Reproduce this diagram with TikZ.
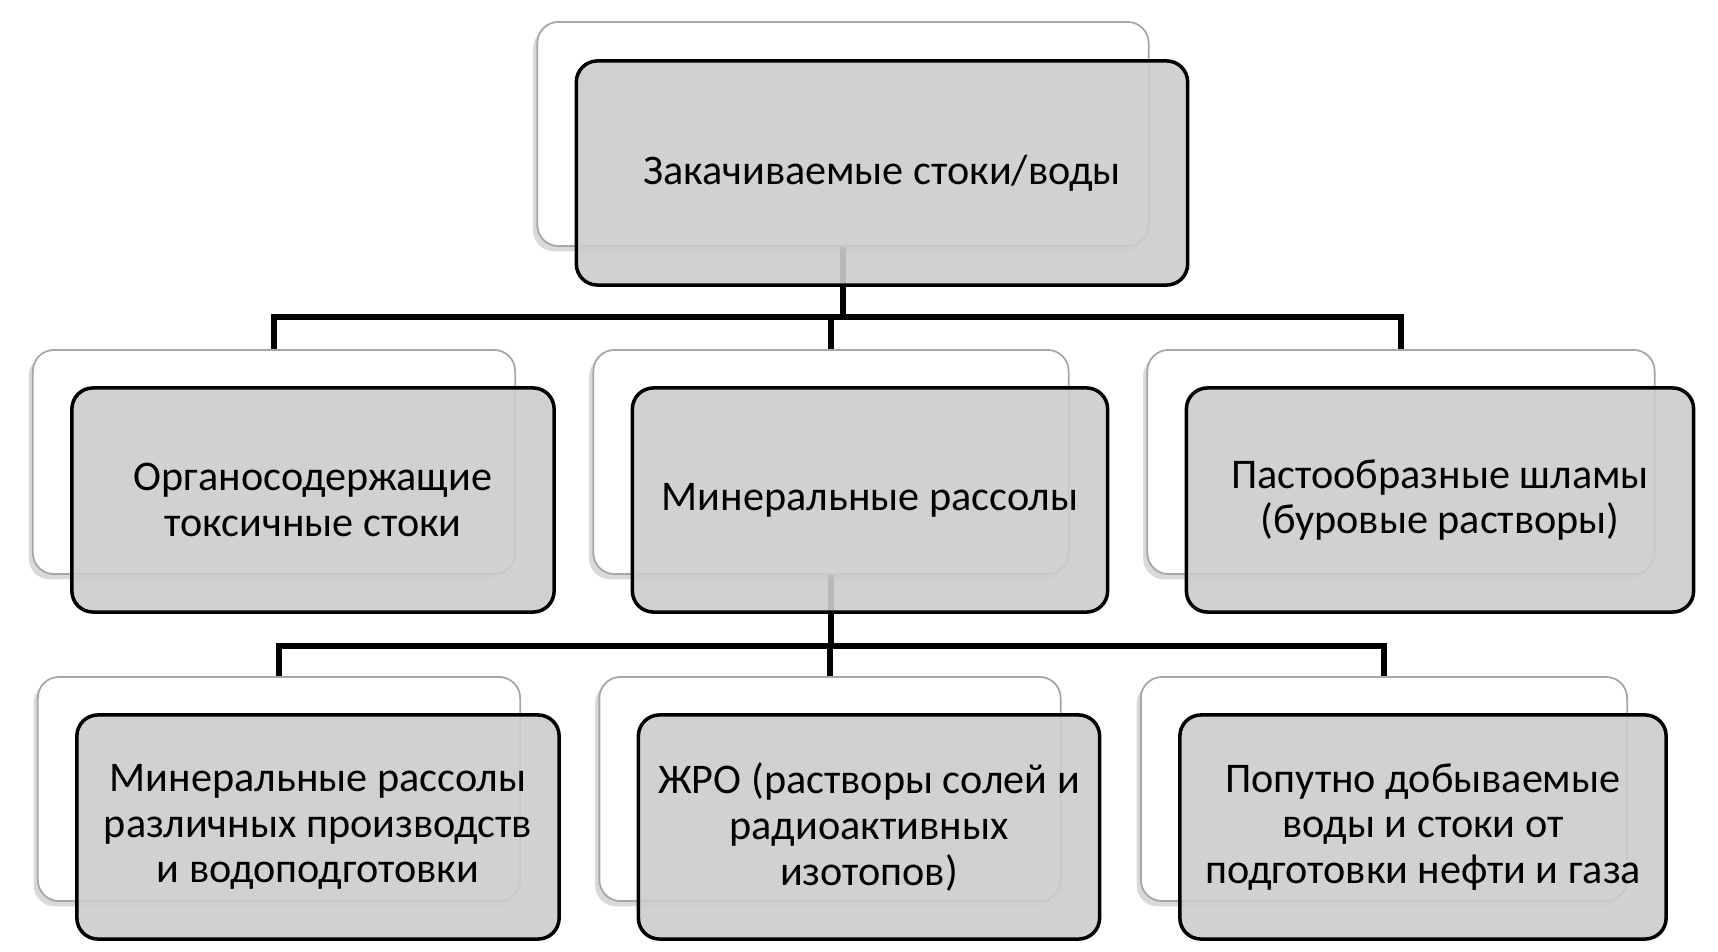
\documentclass[tikz,border=0pt]{standalone}
\usepackage{fontspec}
\setmainfont{Carlito}
\usetikzlibrary{shadows}
\usetikzlibrary{backgrounds}

\begin{document}
\begin{tikzpicture}[x=0.01cm,y=-0.01cm,
  backbox/.style={draw=gray!70,line width=0.5pt,fill=white,rounded corners=6pt,minimum height=2.24cm,inner sep=0pt,outer sep=0pt,drop shadow={shadow xshift=-1.2pt,shadow yshift=-1.5pt,opacity=0.3}},
  frontbox/.style={draw=black,line width=1pt,fill=black!20,fill opacity=0.9,text opacity=1,rounded corners=6pt,minimum height=2.24cm,inner sep=0pt,outer sep=0pt,align=center,font=\fontsize{12}{13}\selectfont},
  conn/.style={draw=black,line width=1.6pt}]
      \useasboundingbox (0,0) rectangle (1718,952);

      % top level
      \node [backbox,minimum width=6.11cm] (topb) at (843,134) {};
      \node [frontbox,minimum width=6.11cm] (topf) at ([shift={(39,39)}]topb.center) {Закачиваемые стоки/воды};

      % second level
      \node [backbox,minimum width=4.82cm] (orgb) at (274,462) {};
      \node [frontbox,minimum width=4.82cm] (orgf) at ([shift={(39,38)}]orgb.center) {Органосодержащие\\токсичные стоки};
      \node [backbox,minimum width=4.75cm] (minb) at (831,462) {};
      \node [frontbox,minimum width=4.75cm] (minf) at ([shift={(39,38)}]minb.center) {Минеральные рассолы};
      \node [backbox,minimum width=5.07cm] (pasb) at (1401,462) {};
      \node [frontbox,minimum width=5.07cm] (pasf) at ([shift={(39,38)}]pasb.center) {Пастообразные шламы\\(буровые растворы)};

      % third level
      \node [backbox,minimum width=4.82cm] (rasb) at (279,789) {};
      \node [frontbox,minimum width=4.82cm] (rasf) at ([shift={(39,38)}]rasb.center) {Минеральные рассолы\\различных производств\\и водоподготовки};
      \node [backbox,minimum width=4.61cm] (zhrob) at (830,789) {};
      \node [frontbox,minimum width=4.61cm] (zhrof) at ([shift={(39,38)}]zhrob.center) {ЖРО (растворы солей и\\радиоактивных\\изотопов)};
      \node [backbox,minimum width=4.86cm] (popb) at (1384,789) {};
      \node [frontbox,minimum width=4.86cm] (popf) at ([shift={(39,38)}]popb.center) {Попутно добываемые\\воды и стоки от\\подготовки нефти и газа};

      \begin{scope}[on background layer]
	\draw [conn] (topb.south) -- ++(0,73);
	\draw [conn] (orgb.north) -- ++(0,-33) -| (pasb.north);
	\draw [conn] (minb.north) -- ++(0,-33);
	\draw [conn] (minb.south) -- ++(0,73);
	\draw [conn] (rasb.north) -- ++(0,-31) -| (popb.north);
	\draw [conn] (zhrob.north) -- ++(0,-31);
      \end{scope}

\end{tikzpicture}
\end{document}
